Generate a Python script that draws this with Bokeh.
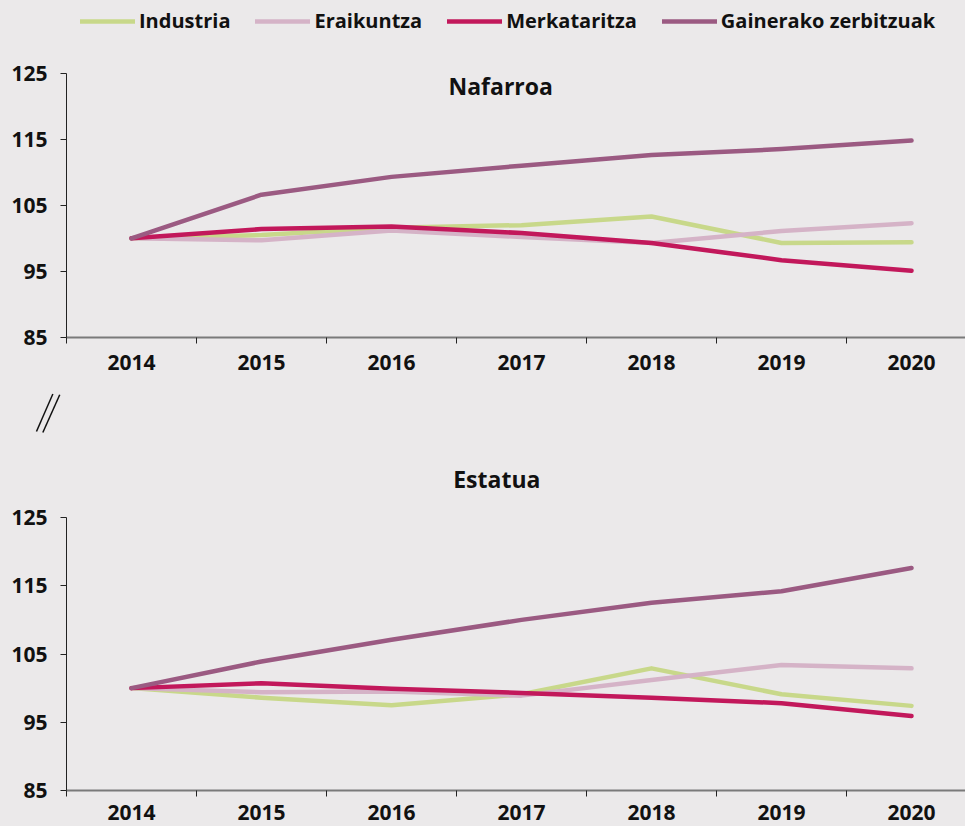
from bokeh.plotting import figure
from bokeh.models import Range1d, FixedTicker, Legend, LegendItem, Label
from bokeh.layouts import column
from bokeh.embed import file_html
from bokeh.resources import INLINE

# ---------------- data ----------------
years = ["2014", "2015", "2016", "2017", "2018", "2019", "2020"]
series_names = ["Industria", "Eraikuntza", "Merkataritza", "Gainerako zerbitzuak"]
panel_titles = ["Nafarroa", "Estatua"]
y_ticks = [85, 95, 105, 115, 125]

industria_naf = [100, 100.5, 101.6, 102.0, 103.3, 99.3, 99.4]
eraikuntza_naf = [100, 99.7, 101.2, 100.2, 99.3, 101.1, 102.3]
merkataritza_naf = [100, 101.4, 101.8, 100.8, 99.3, 96.7, 95.1]
gainerako_naf = [100, 106.6, 109.3, 111.0, 112.6, 113.5, 114.8]

industria_est = [100, 98.6, 97.5, 99.1, 102.9, 99.1, 97.4]
eraikuntza_est = [100, 99.4, 99.5, 98.9, 101.2, 103.4, 102.9]
merkataritza_est = [100, 100.7, 99.9, 99.3, 98.6, 97.8, 95.9]
gainerako_est = [100, 103.9, 107.1, 110.0, 112.5, 114.2, 117.6]

# ---------------- style ----------------
BG = "#EBE9EA"
FONT = "Open Sans"
COLORS = ["#C8D88A", "#D5B3C7", "#C2185B", "#9B5A82"]
W = 965
PX_PER_YEAR = 130.0
AXIS_PX = 66  # page x of the y axis

x_vals = [int(y) for y in years]
x_axis_start = x_vals[0] - 0.5
x_start = x_axis_start - AXIS_PX / PX_PER_YEAR
x_end = x_start + W / PX_PER_YEAR


def make_panel(height, y_start, y_end, standoff, data):
    p = figure(width=W, height=height, output_backend="svg", toolbar_location=None,
               x_range=Range1d(x_start, x_end), y_range=Range1d(y_start, y_end),
               min_border_left=0, min_border_right=0, min_border_top=0,
               min_border_bottom=0)
    p.background_fill_color = BG
    p.border_fill_color = BG
    p.outline_line_color = None
    p.xgrid.visible = False
    p.ygrid.visible = False

    xa = p.xaxis[0]
    xa.fixed_location = y_ticks[0]
    xa.ticker = FixedTicker(ticks=x_vals, minor_ticks=[v - 0.5 for v in x_vals])
    xa.major_label_overrides = {v: y for v, y in zip(x_vals, years)}
    xa.bounds = (x_axis_start, x_end)
    xa.major_tick_out = 0
    xa.major_tick_in = 0
    xa.minor_tick_out = 6
    xa.minor_tick_in = 0
    xa.minor_tick_line_color = "#222222"
    xa.minor_tick_line_width = 1
    xa.axis_line_color = "#7A7A7A"
    xa.axis_line_width = 2
    xa.major_label_standoff = standoff
    xa.major_label_text_font = FONT
    xa.major_label_text_font_style = "bold"
    xa.major_label_text_font_size = "21px"
    xa.major_label_text_color = "#111111"

    ya = p.yaxis[0]
    ya.fixed_location = x_axis_start
    ya.ticker = FixedTicker(ticks=y_ticks, minor_ticks=[])
    ya.bounds = (y_ticks[0], y_ticks[-1])
    ya.major_tick_out = 6
    ya.major_tick_in = 0
    ya.major_tick_line_color = "#222222"
    ya.axis_line_color = "#222222"
    ya.axis_line_width = 1
    ya.major_label_standoff = 13
    ya.major_label_text_font = FONT
    ya.major_label_text_font_style = "bold"
    ya.major_label_text_font_size = "21px"
    ya.major_label_text_color = "#111111"

    renderers = []
    for vals, color in zip(data, COLORS):
        r = p.line(x_vals, vals, line_color=color, line_width=4.5,
                   line_cap="round", line_join="round")
        renderers.append(r)
    return p, renderers


# top panel: page y 0..385; 125 at y=72, 85 at y=337 (6.61 px per unit)
TOP_PX = 6.61
top, rs = make_panel(385, 85 - 48 / TOP_PX, 85 + 337 / TOP_PX, 11,
                     [industria_naf, eraikuntza_naf, merkataritza_naf, gainerako_naf])
legend = Legend(items=[LegendItem(label=n, renderers=[r]) for n, r in zip(series_names, rs)],
                orientation="horizontal", location=(80, 351),
                glyph_width=55, glyph_height=24, label_height=24, label_standoff=4,
                spacing=25, padding=0, margin=0,
                background_fill_alpha=0, border_line_alpha=0,
                label_text_font=FONT, label_text_font_style="bold",
                label_text_font_size="20px", label_text_color="#111111")
top.add_layout(legend)
top.add_layout(Label(x=2016.84, y=123.0, text=panel_titles[0], text_align="center",
                     text_baseline="middle", text_font=FONT, text_font_style="bold",
                     text_font_size="23px", text_color="#111111"))

# bottom panel: page y 385..826; 125 at y=517, 85 at y=790 (6.825 px per unit)
BOT_PX = 6.825
bottom, _ = make_panel(441, 85 - 36 / BOT_PX, 85 + 405 / BOT_PX, 8,
                       [industria_est, eraikuntza_est, merkataritza_est, gainerako_est])
bottom.add_layout(Label(x=2016.81, y=130.6, text=panel_titles[1], text_align="center",
                        text_baseline="middle", text_font=FONT, text_font_style="bold",
                        text_font_size="23px", text_color="#111111"))
# axis break mark "//" (decoration)
bottom.segment(x0=[2013.269, 2013.318], y0=[137.6, 137.45],
               x1=[2013.395, 2013.448], y1=[143.1, 142.98],
               line_color="#111111", line_width=1.5)

layout = column(top, bottom)

html = file_html(layout, INLINE)
html = html.replace(
    "</head>",
    "<style>html, body {margin:0 !important; padding:0 !important; "
    "background-color:#EBE9EA !important; overflow:hidden;}</style>\n</head>", 1)
open("out.html", "w").write(html)
